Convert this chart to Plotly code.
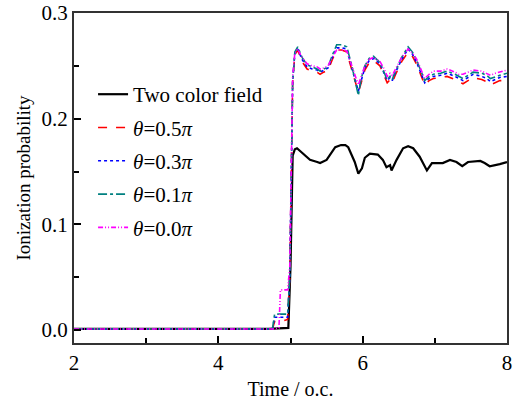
import plotly.graph_objects as go

# ---- data ----
t_two = [2.0, 4.70, 4.97, 5.00, 5.03, 5.06, 5.09, 5.17, 5.27, 5.37, 5.41, 5.50, 5.62, 5.70, 5.76, 5.80,
         5.89, 5.94, 5.99, 6.03, 6.10, 6.21, 6.28, 6.33, 6.38, 6.40, 6.47, 6.56, 6.63, 6.70, 6.79,
         6.89, 6.96, 7.11, 7.21, 7.30, 7.38, 7.46, 7.63, 7.69, 7.76, 7.90, 8.0]
p_two = [0.001, 0.001, 0.002, 0.060, 0.165, 0.171, 0.172, 0.167, 0.161, 0.159, 0.158, 0.161, 0.173, 0.175, 0.175, 0.173,
         0.159, 0.148, 0.153, 0.163, 0.167, 0.166, 0.161, 0.154, 0.156, 0.151, 0.161, 0.172, 0.174, 0.172, 0.164,
         0.151, 0.158, 0.158, 0.161, 0.159, 0.155, 0.159, 0.160, 0.158, 0.155, 0.157, 0.159]

t_theta = [2.0, 4.75, 4.78, 4.84, 4.86, 4.96, 4.99, 5.03, 5.06, 5.10, 5.16, 5.23, 5.30, 5.37, 5.41, 5.46,
           5.52, 5.58, 5.64, 5.71, 5.78, 5.85, 5.90, 5.94, 5.98, 6.03, 6.09, 6.15, 6.24, 6.30, 6.34,
           6.38, 6.41, 6.45, 6.54, 6.63, 6.69, 6.75, 6.81, 6.86, 6.92, 6.98, 7.08, 7.17, 7.28, 7.33,
           7.39, 7.46, 7.53, 7.65, 7.72, 7.77, 7.84, 7.90, 8.0]

p_05 = [0.001, 0.001, 0.008, 0.008, 0.008, 0.010, 0.050, 0.235, 0.260, 0.265, 0.254, 0.247, 0.245, 0.244, 0.242, 0.244,
        0.246, 0.256, 0.265, 0.265, 0.263, 0.246, 0.233, 0.225, 0.234, 0.246, 0.253, 0.255, 0.250, 0.241, 0.234,
        0.237, 0.234, 0.241, 0.254, 0.263, 0.259, 0.251, 0.240, 0.232, 0.236, 0.238, 0.239, 0.240, 0.237, 0.235,
        0.233, 0.236, 0.239, 0.237, 0.235, 0.232, 0.234, 0.236, 0.236]
p_03 = [0.001, 0.001, 0.012, 0.012, 0.012, 0.012, 0.050, 0.235, 0.262, 0.266, 0.256, 0.249, 0.247, 0.246, 0.244, 0.246,
        0.248, 0.258, 0.267, 0.267, 0.266, 0.248, 0.235, 0.226, 0.236, 0.248, 0.255, 0.257, 0.252, 0.243, 0.236,
        0.239, 0.236, 0.243, 0.256, 0.266, 0.261, 0.253, 0.243, 0.234, 0.238, 0.240, 0.241, 0.243, 0.240, 0.238,
        0.236, 0.239, 0.242, 0.240, 0.238, 0.235, 0.237, 0.239, 0.240]
p_01 = [0.001, 0.001, 0.015, 0.015, 0.015, 0.015, 0.050, 0.235, 0.263, 0.268, 0.258, 0.251, 0.249, 0.247, 0.245, 0.247,
        0.249, 0.260, 0.270, 0.270, 0.268, 0.250, 0.235, 0.222, 0.238, 0.250, 0.257, 0.259, 0.253, 0.244, 0.237,
        0.240, 0.237, 0.244, 0.258, 0.268, 0.263, 0.255, 0.245, 0.236, 0.240, 0.242, 0.243, 0.245, 0.242, 0.240,
        0.238, 0.241, 0.244, 0.243, 0.241, 0.238, 0.240, 0.241, 0.243]
p_00 = [0.001, 0.001, 0.001, 0.002, 0.038, 0.038, 0.060, 0.240, 0.262, 0.266, 0.258, 0.252, 0.250, 0.249, 0.247, 0.248,
        0.250, 0.258, 0.265, 0.265, 0.264, 0.250, 0.240, 0.232, 0.240, 0.250, 0.256, 0.258, 0.254, 0.247, 0.240,
        0.243, 0.241, 0.246, 0.258, 0.266, 0.262, 0.256, 0.247, 0.238, 0.242, 0.245, 0.245, 0.247, 0.244, 0.242,
        0.242, 0.244, 0.246, 0.245, 0.243, 0.241, 0.243, 0.244, 0.246]

names = ["Two color field", "<i>θ</i>=0.5<i>π</i>", "<i>θ</i>=0.3<i>π</i>",
         "<i>θ</i>=0.1<i>π</i>", "<i>θ</i>=0.0<i>π</i>"]

x_ticks = [2, 4, 6, 8]
y_ticks = [0.0, 0.1, 0.2, 0.3]
y_labels = ["0.0", "0.1", "0.2", "0.3"]

FONT = "Liberation Serif"

fig = go.Figure()
fig.add_trace(go.Scatter(x=t_two, y=p_two, mode="lines", name=names[0], legendgroup="g0",
                         line=dict(color="black", width=2.2)))
fig.add_trace(go.Scatter(x=t_theta, y=p_05, mode="lines", name=names[1], legendgroup="g1",
                         line=dict(color="#ff0000", width=1.6, dash="dash")))
fig.add_trace(go.Scatter(x=t_theta, y=p_03, mode="lines", name=names[2], legendgroup="g2",
                         line=dict(color="#0000ff", width=1.6, dash="dot")))
fig.add_trace(go.Scatter(x=t_theta, y=p_01, mode="lines", name=names[3], legendgroup="g3",
                         line=dict(color="#008080", width=1.6, dash="dashdot")))
fig.add_trace(go.Scatter(x=t_theta, y=p_00, mode="lines", name=names[4], legendgroup="g4",
                         line=dict(color="#ff00ff", width=1.6, dash="5px,2px,1px,2px,1px,2px")))

fig.update_layout(
    width=519, height=403,
    margin=dict(l=74, r=12, t=13, b=60),
    paper_bgcolor="white", plot_bgcolor="white",
    font=dict(family=FONT, size=20, color="black"),
    showlegend=True,
    legend=dict(x=0.044, y=0.815, xanchor="left", yanchor="top",
                bgcolor="rgba(0,0,0,0)", font=dict(family=FONT, size=21),
                tracegroupgap=3),
)
fig.update_xaxes(
    range=[2, 8], tickvals=x_ticks, ticktext=[str(v) for v in x_ticks],
    ticks="inside", ticklen=7, tickwidth=1.5, tickcolor="black",
    minor=dict(ticks="inside", ticklen=5, tickwidth=1.5, dtick=1, tickcolor="black"),
    showline=True, linecolor="#333", linewidth=2, mirror=True,
    showgrid=False, zeroline=False, automargin=False,
    tickfont=dict(family=FONT, size=21),
    title=dict(text="Time / o.c.", font=dict(family=FONT, size=20), standoff=8),
)
fig.update_yaxes(
    range=[-0.0123, 0.3], tickvals=y_ticks, ticktext=y_labels,
    ticks="inside", ticklen=7, tickwidth=1.5, tickcolor="black",
    minor=dict(ticks="inside", ticklen=5, tickwidth=1.5, dtick=0.05, tickcolor="black"),
    showline=True, linecolor="#333", linewidth=2, mirror=True,
    showgrid=False, zeroline=False, automargin=False,
    tickfont=dict(family=FONT, size=21),
    title=dict(text="Ionization probability", font=dict(family=FONT, size=19), standoff=6),
)

fig.write_html("out.html")
